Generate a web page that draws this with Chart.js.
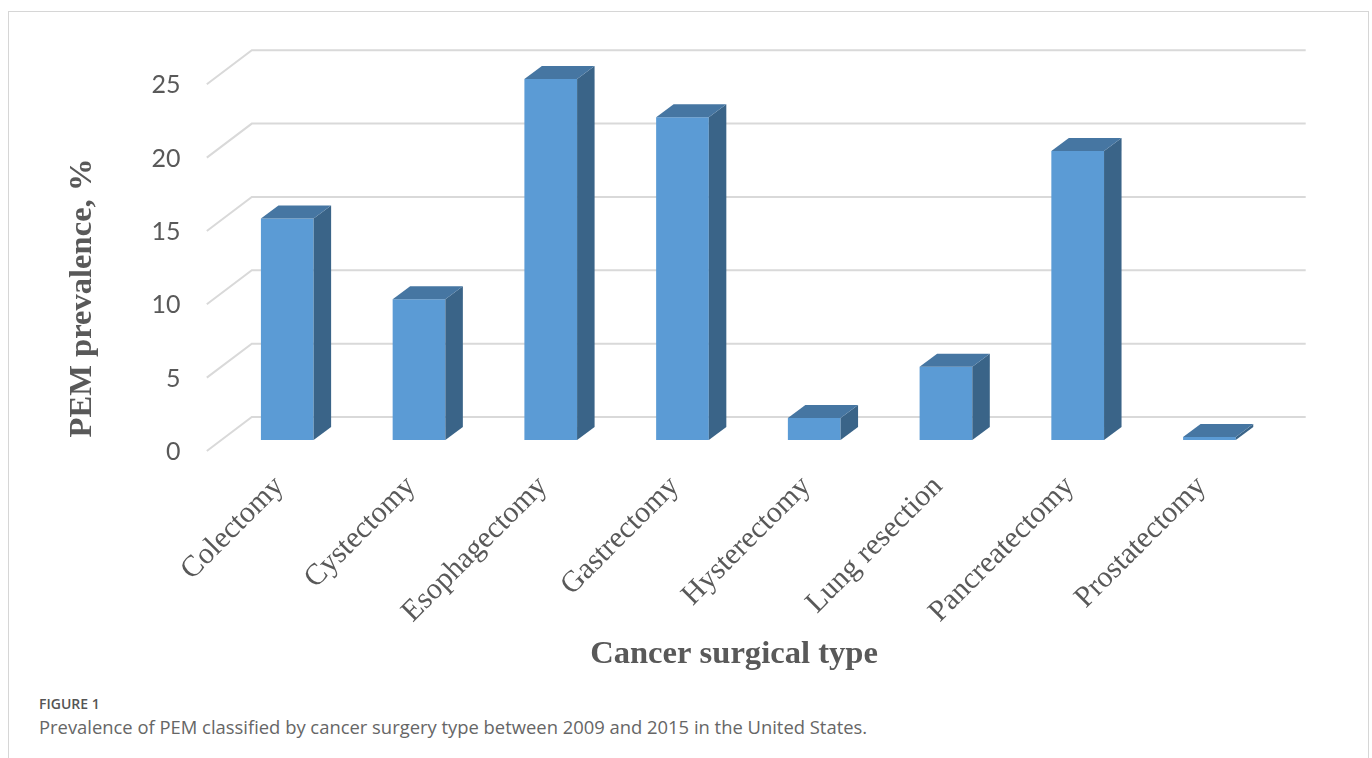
<!DOCTYPE html>
<html>
<head>
<meta charset="utf-8">
<script src="https://cdn.jsdelivr.net/npm/chart.js@4.4.1/dist/chart.umd.min.js"></script>
<style>
  body { margin: 0; background: #fff; width: 1372px; height: 758px; overflow: hidden; position: relative; }
  #frame { position: absolute; left: 8px; top: 11px; width: 1361px; height: 800px; border: 1px solid #d6d6d6; box-sizing: border-box; }
  #wrap { position: absolute; left: 0; top: 0; width: 1372px; height: 690px; }
  .figno { position: absolute; left: 39px; top: 694px; font: 600 14px "Open Sans", sans-serif; color: #555; }
  .caption { position: absolute; left: 39px; top: 714px; font: 400 18.4px "Open Sans", sans-serif; color: #666; }
</style>
</head>
<body>
<div id="frame"></div>
<div id="wrap"><canvas id="chart" width="1372" height="690"></canvas></div>
<div class="figno">FIGURE 1</div>
<div class="caption">Prevalence of PEM classified by cancer surgery type between 2009 and 2015 in the United States.</div>
<script>
// values (percent)
var categories = ['Colectomy', 'Cystectomy', 'Esophagectomy', 'Gastrectomy',
                  'Hysterectomy', 'Lung resection', 'Pancreatectomy', 'Prostatectomy'];
var prevalence = [15.1, 9.6, 24.6, 22.0, 1.5, 5.0, 19.7, 0.2];
var yMin = 0, yMax = 25, yStep = 5;
var yTitle = 'PEM prevalence, %';
var xTitle = 'Cancer surgical type';

var frontColor = '#5B9BD5', topColor = '#4676A2', sideColor = '#3A6488';
var gridColor = '#D9D9D9', textColor = '#595959';
var barDX = 17.5, barDY = -13;       // depth of each bar
var wallDX = 30.4, wallDY = -23;     // from bar front to back wall
var floorDX = 14.6, floorDY = 11;    // from bar front to front edge of floor

var box3d = {
    id: 'box3d',
    beforeDatasetsDraw: function(chart) {          // gridlines on side wall + back wall
        var ctx = chart.ctx, area = chart.chartArea, ys = chart.scales.y;
        ctx.save();
        ctx.strokeStyle = gridColor;
        ctx.lineWidth = 2;
        ys.ticks.forEach(function(t) {
            var py = ys.getPixelForValue(t.value);
            ctx.beginPath();
            ctx.moveTo(area.left - floorDX, py + floorDY);
            ctx.lineTo(area.left + wallDX, py + wallDY);
            ctx.lineTo(area.right + wallDX, py + wallDY);
            ctx.stroke();
        });
        ctx.restore();
    },
    afterDatasetsDraw: function(chart) {           // top and side faces of the bars
        var ctx = chart.ctx;
        ctx.save();
        chart.getDatasetMeta(0).data.forEach(function(bar) {
            var l = bar.x - bar.width / 2, r = bar.x + bar.width / 2;
            var t = bar.y, b = bar.base;
            ctx.fillStyle = sideColor;
            ctx.beginPath();
            ctx.moveTo(r, t);
            ctx.lineTo(r + barDX, t + barDY);
            ctx.lineTo(r + barDX, b + barDY);
            ctx.lineTo(r, b);
            ctx.closePath();
            ctx.fill();
            ctx.fillStyle = topColor;
            ctx.beginPath();
            ctx.moveTo(l, t);
            ctx.lineTo(r, t);
            ctx.lineTo(r + barDX, t + barDY);
            ctx.lineTo(l + barDX, t + barDY);
            ctx.closePath();
            ctx.fill();
        });
        ctx.restore();
    },
    afterDraw: function(chart) {                   // axis titles
        var ctx = chart.ctx;
        ctx.save();
        ctx.fillStyle = textColor;
        ctx.font = 'bold 32.6px "Liberation Serif", serif';
        ctx.textAlign = 'center';
        ctx.textBaseline = 'middle';
        ctx.fillText(xTitle, 734, 655);
        ctx.translate(83, 298);
        ctx.rotate(-Math.PI / 2);
        ctx.fillText(yTitle, 0, 0);
        ctx.restore();
    }
};

new Chart(document.getElementById('chart'), {
    type: 'bar',
    data: {
        labels: categories,
        datasets: [{
            data: prevalence,
            backgroundColor: frontColor,
            borderWidth: 0,
            barPercentage: 0.4,
            categoryPercentage: 1.0
        }]
    },
    options: {
        responsive: false,
        animation: false,
        layout: { padding: { top: 73.25, right: 96.7, left: 0, bottom: 0 } },
        plugins: { legend: { display: false }, tooltip: { enabled: false } },
        scales: {
            x: {
                grid: { display: false, drawTicks: false },
                border: { display: false },
                ticks: {
                    autoSkip: false, minRotation: 45, maxRotation: 45,
                    padding: 29, labelOffset: -8,
                    color: textColor,
                    font: { family: '"Liberation Serif", serif', size: 30 }
                },
                afterFit: function(s) { s.height = 250; }
            },
            y: {
                min: yMin, max: yMax,
                grid: { display: false, drawTicks: false },
                border: { display: false },
                ticks: {
                    stepSize: yStep, padding: 41, labelOffset: 12,
                    color: textColor,
                    font: { family: 'Lato, sans-serif', size: 25 }
                },
                afterFit: function(s) { s.width = 221.4; }
            }
        }
    },
    plugins: [box3d]
});
</script>
</body>
</html>
